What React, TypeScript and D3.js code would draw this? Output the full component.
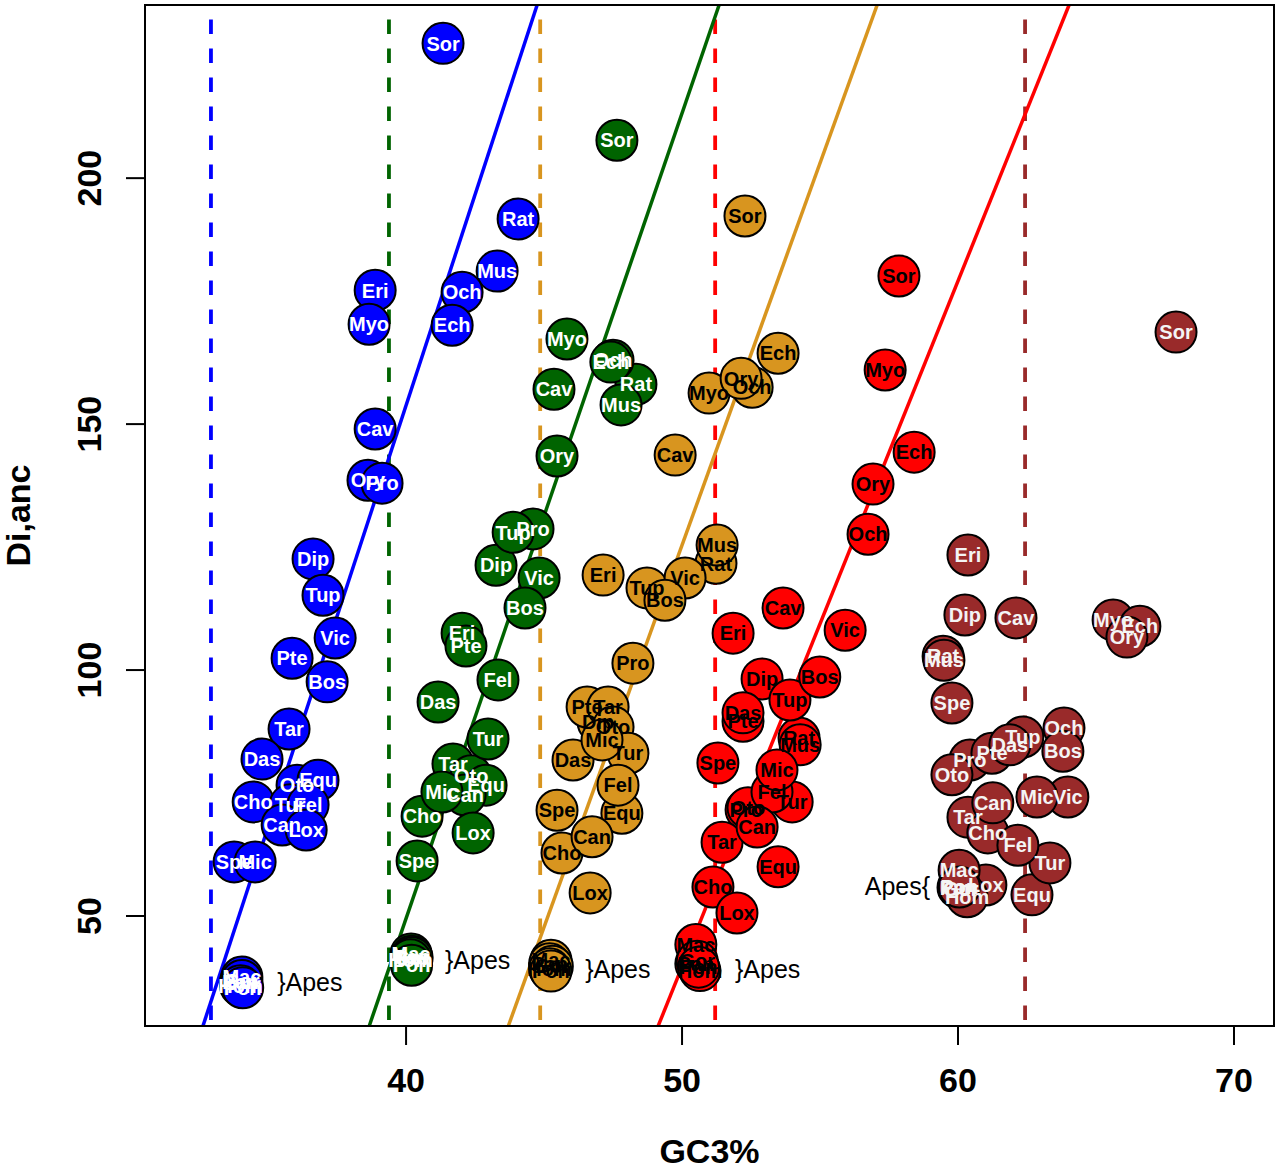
import React from 'react';
import * as d3 from 'd3';

// species codes, same order in every group
const species = [
  'Sor', 'Rat', 'Mus', 'Eri', 'Och', 'Myo', 'Ech', 'Cav', 'Ory', 'Pro', 'Dip', 'Tup', 'Vic', 'Pte', 'Bos', 'Tar',
  'Das', 'Oto', 'Equ', 'Cho', 'Tur', 'Fel', 'Can', 'Lox', 'Spe', 'Mic', 'Mac', 'Pan', 'Gor', 'Hom', 'Pon',
];

// GC3% per group
const gcBlue = [41.34, 44.06, 43.3, 38.88, 42.03, 38.66, 41.67, 38.88, 38.62, 39.13, 36.63, 36.99, 37.43, 35.87, 37.14, 35.76,
  34.78, 36.05, 36.81, 34.46, 35.8, 36.45, 35.51, 36.38, 33.77, 34.53, 34.05, 34.0, 34.05, 34.0, 34.08];
const gcGreen = [47.64, 48.33, 47.79, 42.03, 47.5, 45.83, 47.42, 45.36, 45.47, 44.6, 43.26, 43.88, 44.82, 42.17, 44.31, 41.7,
  41.16, 42.36, 42.9, 40.58, 42.97, 43.33, 42.14, 42.43, 40.4, 41.3, 40.18, 40.2, 40.22, 40.16, 40.2];
const gcOrange = [52.28, 51.23, 51.27, 47.14, 52.54, 50.98, 53.48, 49.75, 52.14, 48.22, 46.96, 48.73, 50.11, 46.56, 49.38, 47.32,
  46.05, 47.5, 47.82, 45.65, 48.04, 47.68, 46.74, 46.67, 45.47, 47.1, 45.25, 45.2, 45.3, 45.2, 45.25];
const gcRed = [57.86, 54.24, 54.28, 51.85, 56.74, 57.36, 58.41, 53.66, 56.92, 52.32, 52.9, 53.91, 55.91, 52.21, 54.99, 51.45,
  52.21, 52.39, 53.48, 51.12, 53.99, 53.26, 52.72, 51.99, 51.3, 53.44, 50.5, 50.5, 50.55, 50.65, 50.6];
const gcBrown = [67.9, 59.46, 59.49, 60.36, 63.84, 65.62, 66.59, 62.1, 66.12, 60.43, 60.25, 62.35, 63.98, 61.23, 63.8, 60.36,
  61.88, 59.78, 62.68, 61.08, 63.33, 62.17, 61.26, 61.01, 59.78, 62.86, 60.04, 60.0, 60.1, 60.33, 60.05];

// Di,anc per group
const diBlue = [227.4, 191.7, 181.1, 177.2, 176.8, 170.3, 170.1, 149.0, 138.6, 138.0, 122.6, 115.2, 106.5, 102.4, 97.6, 88.0,
  81.9, 76.6, 77.6, 73.2, 72.6, 72.6, 68.5, 67.5, 61.0, 61.0, 37.6, 36.6, 36.9, 35.8, 35.4];
const diGreen = [207.7, 158.1, 153.9, 107.5, 163.0, 167.3, 162.6, 157.1, 143.5, 128.7, 121.3, 128.0, 118.7, 104.9, 112.6, 80.9,
  93.5, 78.5, 76.6, 70.3, 86.0, 98.0, 74.6, 66.9, 61.2, 75.2, 42.3, 41.8, 41.5, 41.1, 40.0];
const diOrange = [192.3, 121.7, 125.4, 119.3, 157.5, 156.3, 164.4, 143.7, 159.3, 101.4, 89.4, 116.7, 118.7, 92.5, 114.2, 92.5,
  81.7, 88.4, 70.9, 62.8, 83.1, 76.6, 66.1, 54.7, 71.5, 85.8, 41.0, 40.3, 39.8, 39.3, 38.8];
const diRed = [180.1, 86.2, 84.8, 107.5, 127.6, 161.0, 144.3, 112.6, 137.8, 71.6, 98.2, 93.9, 108.1, 89.6, 98.6, 65.0,
  91.3, 72.0, 60.0, 55.9, 73.2, 75.2, 68.1, 50.6, 81.1, 79.7, 44.2, 40.3, 40.8, 38.9, 39.6];
const diBrown = [168.7, 102.8, 102.0, 123.4, 88.2, 110.2, 108.9, 110.6, 106.7, 81.7, 111.2, 86.4, 74.2, 83.1, 83.5, 70.1,
  84.8, 78.7, 54.3, 66.9, 60.8, 64.4, 73.0, 56.3, 93.3, 74.2, 59.3, 55.8, 55.6, 53.9, 55.9];

const groupFill = ['#0000ff', '#006400', '#d8951f', '#ff0000', '#992a2a'];
const groupText = ['#ffffff', '#ffffff', '#000000', '#000000', '#f4f4f4'];

// group means (dashed verticals)
const meanGC = [32.93, 39.38, 44.86, 51.2, 62.43];
// fitted lines Di = a + b * GC3
const fitIntercept = [-531.8, -605.3, -651.1, -657.3];
const fitSlope = [17.14, 16.37, 15.53, 13.94];

// "Apes" annotations
const apesText = ['}Apes', '}Apes', '}Apes', '}Apes', 'Apes{'];
const apesGC = [35.33, 41.41, 46.49, 51.92, 58.99];
const apesDi = [36.6, 41.1, 39.2, 39.2, 56.1];

const xTicks = [40, 50, 60, 70];
const yTicks = [50, 100, 150, 200];

const W = 1280;
const H = 1169;
const m = { left: 145, right: 1274, top: 5, bottom: 1026 };
const font = '"Liberation Sans", Arial, Helvetica, sans-serif';

export default function App() {
  const x = d3.scaleLinear().domain([30.54, 71.45]).range([m.left, m.right]);
  const y = d3.scaleLinear().domain([27.64, 235.2]).range([m.bottom, m.top]);
  const [y0, y1] = y.domain();

  const groups = [
    { gc: gcBlue, di: diBlue },
    { gc: gcGreen, di: diGreen },
    { gc: gcOrange, di: diOrange },
    { gc: gcRed, di: diRed },
    { gc: gcBrown, di: diBrown },
  ];

  const fitLine = d3.line<number>().x((d) => x(d[0])).y((d) => y(d[1]));

  return (
    <svg width={W} height={H} style={{ position: 'absolute', left: 0, top: 0, background: '#fff' }} fontFamily={font}>
      <defs>
        <clipPath id="plot">
          <rect x={m.left} y={m.top} width={m.right - m.left} height={m.bottom - m.top} />
        </clipPath>
      </defs>

      <g clipPath="url(#plot)">
        {meanGC.map((g, i) => (
          <line key={`v${i}`} x1={x(g)} x2={x(g)} y1={m.top} y2={m.bottom}
            stroke={groupFill[i]} strokeWidth={3.8} strokeDasharray="14.5 14.5" strokeDashoffset={14.5} />
        ))}
        {fitSlope.map((b, i) => {
          const a = fitIntercept[i];
          const pts: any = [[(y0 - a) / b, y0], [(y1 - a) / b, y1]];
          return <path key={`f${i}`} d={fitLine(pts) || ''} stroke={groupFill[i]} strokeWidth={3.5} fill="none" />;
        })}

        {groups.map((grp, gi) => (
          <g key={`g${gi}`}>
            {grp.gc.map((g, i) => (
              <circle key={i} cx={x(g)} cy={y(grp.di[i])} r={20.5} fill={groupFill[gi]} stroke="#000" strokeWidth={2} />
            ))}
            {grp.gc.map((g, i) => (
              <text key={i} x={x(g)} y={y(grp.di[i])} dy="0.36em" textAnchor="middle" fontSize={20}
                fontWeight="bold" fill={groupText[gi]}>{species[i]}</text>
            ))}
          </g>
        ))}

        {apesText.map((t, i) => (
          <text key={`a${i}`} x={x(apesGC[i])} y={y(apesDi[i])} dy="0.36em" fontSize={25}
            textAnchor={t.startsWith('}') ? 'start' : 'end'} fill="#000">{t}</text>
        ))}
      </g>

      <rect x={m.left} y={m.top} width={m.right - m.left} height={m.bottom - m.top} fill="none" stroke="#000" strokeWidth={2} />

      {xTicks.map((t) => (
        <g key={`xt${t}`}>
          <line x1={x(t)} x2={x(t)} y1={m.bottom} y2={m.bottom + 19} stroke="#000" strokeWidth={2} />
          <text x={x(t)} y={1080} dy="0.36em" textAnchor="middle" fontSize={34} fontWeight="bold">{t}</text>
        </g>
      ))}
      {yTicks.map((t) => (
        <g key={`yt${t}`}>
          <line x1={m.left - 19} x2={m.left} y1={y(t)} y2={y(t)} stroke="#000" strokeWidth={2} />
          <text transform={`translate(89,${y(t)}) rotate(-90)`} dy="0.36em" textAnchor="middle" fontSize={34}
            fontWeight="bold">{t}</text>
        </g>
      ))}

      <text x={(m.left + m.right) / 2} y={1151} dy="0.36em" textAnchor="middle" fontSize={34} fontWeight="bold">GC3%</text>
      <text transform={`translate(18,${(m.top + m.bottom) / 2}) rotate(-90)`} dy="0.36em" textAnchor="middle"
        fontSize={34} fontWeight="bold">Di,anc</text>
    </svg>
  );
}
